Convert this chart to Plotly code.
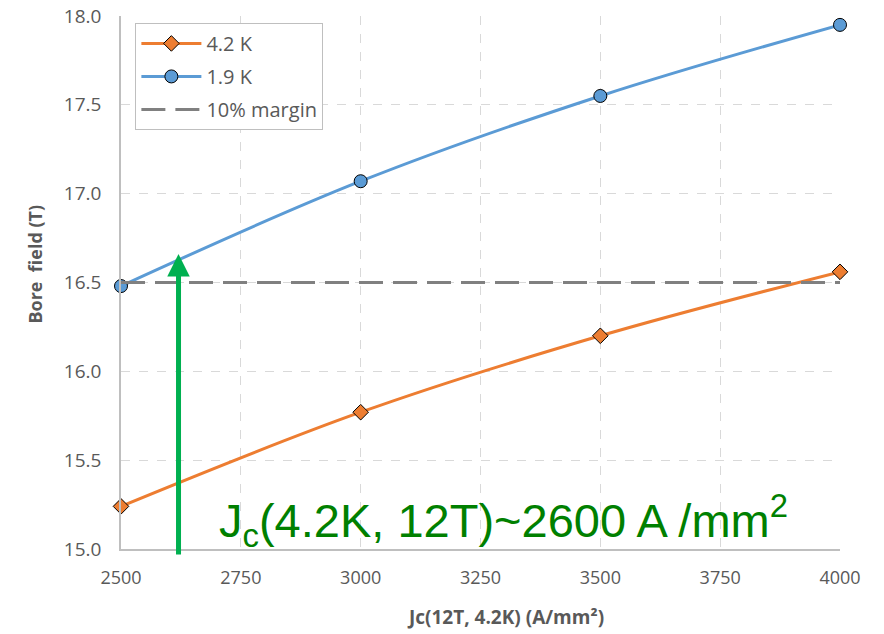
import plotly.graph_objects as go

jc = [2500, 3000, 3500, 4000]
field_42K = [15.24, 15.77, 16.20, 16.56]
field_19K = [16.48, 17.07, 17.55, 17.95]
margin_x = [2500, 4000]
margin_y = [16.5, 16.5]
arrow_x = 2620
arrow_y0 = 14.96
arrow_y1 = 16.66
x_ticks = [2500, 2750, 3000, 3250, 3500, 3750, 4000]
y_ticks = [15.0, 15.5, 16.0, 16.5, 17.0, 17.5, 18.0]

fig = go.Figure()
fig.add_trace(go.Scatter(
    x=jc, y=field_42K, name="4.2 K", mode="lines+markers", legendgroup="a", cliponaxis=False,
    line=dict(color="#ED7D31", width=3, shape="spline"),
    marker=dict(symbol="diamond", size=12, color="#ED7D31", line=dict(color="#000000", width=1)),
))
fig.add_trace(go.Scatter(
    x=jc, y=field_19K, name="1.9 K", mode="lines+markers", legendgroup="b", cliponaxis=False,
    line=dict(color="#5B9BD5", width=3, shape="spline"),
    marker=dict(symbol="circle", size=13, color="#5B9BD5", line=dict(color="#000000", width=1)),
))
fig.add_trace(go.Scatter(
    x=margin_x, y=margin_y, name="10% margin", mode="lines", legendgroup="c",
    line=dict(color="#808080", width=3, dash="24px,10px"),
))

fig.add_annotation(
    x=arrow_x, y=arrow_y1, ax=arrow_x, ay=arrow_y0,
    xref="x", yref="y", axref="x", ayref="y",
    showarrow=True, arrowhead=2, arrowsize=0.9, arrowwidth=5,
    arrowcolor="#00B050", text="",
)
fig.add_annotation(
    x=3298, y=15.16, xref="x", yref="y",
    text="J<sub>c</sub>(4.2K, 12T)~2600 A /mm<sup>2</sup>",
    showarrow=False,
    font=dict(family="Liberation Sans, Arial", size=47, color="#008000"),
)
fig.add_annotation(
    x=0.535, y=-0.128, xref="paper", yref="paper", showarrow=False,
    xanchor="center", yanchor="middle",
    text="<b>Jc(12T, 4.2K) (A/mm²)</b>",
    font=dict(family="Open Sans", size=19, color="#595959"),
)
fig.add_annotation(
    x=-0.12, y=0.535, xref="paper", yref="paper", showarrow=False, textangle=-90,
    xanchor="center", yanchor="middle",
    text="<b>Bore  field (T)</b>",
    font=dict(family="Open Sans", size=18, color="#595959"),
)

fig.update_layout(
    width=884, height=634,
    margin=dict(l=121, r=44, t=16, b=85, autoexpand=False),
    plot_bgcolor="white", paper_bgcolor="white",
    font=dict(family="Open Sans, Liberation Sans", color="#595959"),
    legend=dict(
        x=0.02, y=0.987, xanchor="left", yanchor="top",
        bgcolor="white", bordercolor="#BFBFBF", borderwidth=1,
        font=dict(family="Open Sans", size=20, color="#595959"),
        itemwidth=60, tracegroupgap=4,
    ),
    xaxis=dict(
        range=[2500, 4000], tickvals=x_ticks, ticktext=[str(v) for v in x_ticks],
        showgrid=True, gridcolor="#D9D9D9", griddash="dash", gridwidth=1,
        showline=True, linecolor="#BFBFBF", linewidth=1.5, zeroline=False,
        ticks="outside", ticklen=12, tickcolor="rgba(0,0,0,0)", automargin=False,
        tickfont=dict(family="Open Sans", size=18, color="#595959"),
    ),
    yaxis=dict(
        range=[15.0, 18.0], tickvals=y_ticks, ticktext=[f"{v:.1f}" for v in y_ticks],
        showgrid=True, gridcolor="#D9D9D9", griddash="dash", gridwidth=1,
        showline=True, linecolor="#BFBFBF", linewidth=1.5, zeroline=False,
        ticks="outside", ticklen=14, tickcolor="rgba(0,0,0,0)", automargin=False,
        tickfont=dict(family="Open Sans", size=19, color="#595959"),
    ),
)

fig.write_html("out.html")
